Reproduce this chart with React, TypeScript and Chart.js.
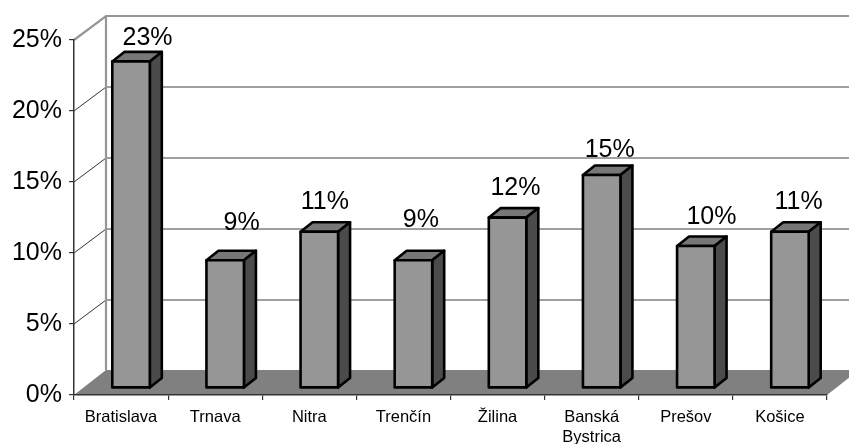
import React, { useEffect, useRef } from "react";
import { Chart, registerables } from "chart.js";

Chart.register(...registerables);

const categories: (string | string[])[] = ["Bratislava", "Trnava", "Nitra", "Trenčín", "Žilina", ["Banská", "Bystrica"], "Prešov", "Košice"];
const shares = [23, 9, 11, 9, 12, 15, 10, 11];
const yTicks = [0, 5, 10, 15, 20, 25];

// nudges of the value labels away from the top of their bar
const labelNudgeX = [16.5, 16.5, 5.6, 7.4, 7.9, 8, 15.6, 8.7];
const labelLift = [16.4, 30, 22.8, 33, 22.6, 18.3, 22, 22.8];

const WALL_DX = 32;
const WALL_DY = 24;
const BAR_DX = 10;
const BAR_DY = 7;
const SIDE_DX = 12;
const SIDE_DY = 9.5;
const EDGE = 2.6;

const solid3d = {
  id: "solid3d",
  beforeDraw(chart: any) {
    const { ctx, chartArea: a, scales } = chart;
    const y = scales.y;
    ctx.save();
    ctx.fillStyle = "#ffffff";
    ctx.fillRect(0, 0, chart.width, chart.height);
    // floor
    ctx.fillStyle = "#808080";
    ctx.beginPath();
    ctx.moveTo(a.left, a.bottom);
    ctx.lineTo(a.left + WALL_DX, a.bottom - WALL_DY - 1);
    ctx.lineTo(a.right + WALL_DX, a.bottom - WALL_DY - 1);
    ctx.lineTo(a.right, a.bottom);
    ctx.closePath();
    ctx.fill();
    // gridlines on the walls
    for (const t of yTicks) {
      const py = y.getPixelForValue(t);
      if (t > 0 && t < 25) {
        ctx.strokeStyle = "#333333";
        ctx.lineWidth = 1;
        ctx.beginPath();
        ctx.moveTo(a.left, py);
        ctx.lineTo(a.left + WALL_DX, py - WALL_DY);
        ctx.stroke();
        ctx.strokeStyle = "#808080";
        ctx.lineWidth = 1.3;
        ctx.beginPath();
        ctx.moveTo(a.left + WALL_DX, py - WALL_DY);
        ctx.lineTo(chart.width, py - WALL_DY);
        ctx.stroke();
      }
    }
    // wall frame
    ctx.strokeStyle = "#969696";
    ctx.lineWidth = 2.2;
    ctx.beginPath();
    ctx.moveTo(a.left, a.top);
    ctx.lineTo(a.left + WALL_DX, a.top - WALL_DY);
    ctx.lineTo(chart.width, a.top - WALL_DY);
    ctx.moveTo(a.left + WALL_DX, a.top - WALL_DY);
    ctx.lineTo(a.left + WALL_DX, a.bottom - WALL_DY - 1);
    ctx.stroke();
    ctx.restore();
  },
  beforeDatasetsDraw(chart: any) {
    const { ctx } = chart;
    ctx.save();
    ctx.translate(BAR_DX, -BAR_DY);
    const bars = chart.getDatasetMeta(0).data;
    ctx.lineWidth = EDGE;
    ctx.strokeStyle = "#000000";
    ctx.lineJoin = "round";
    for (const b of bars) {
      const p = b.getProps(["x", "y", "base", "width"], true);
      const l = p.x - p.width / 2;
      const r = p.x + p.width / 2;
      ctx.fillStyle = "#777777";
      ctx.beginPath();
      ctx.moveTo(l, p.y);
      ctx.lineTo(l + SIDE_DX, p.y - SIDE_DY);
      ctx.lineTo(r + SIDE_DX, p.y - SIDE_DY);
      ctx.lineTo(r, p.y);
      ctx.closePath();
      ctx.fill();
      ctx.stroke();
      ctx.fillStyle = "#4b4b4b";
      ctx.beginPath();
      ctx.moveTo(r, p.y);
      ctx.lineTo(r + SIDE_DX, p.y - SIDE_DY);
      ctx.lineTo(r + SIDE_DX, p.base - SIDE_DY);
      ctx.lineTo(r, p.base);
      ctx.closePath();
      ctx.fill();
      ctx.stroke();
    }
  },
  afterDatasetsDraw(chart: any) {
    const { ctx } = chart;
    const bars = chart.getDatasetMeta(0).data;
    ctx.lineWidth = EDGE;
    ctx.strokeStyle = "#000000";
    for (const b of bars) {
      const p = b.getProps(["x", "y", "base", "width"], true);
      ctx.strokeRect(p.x - p.width / 2, p.y, p.width, p.base - p.y);
    }
    ctx.restore();
    ctx.save();
    ctx.fillStyle = "#000000";
    ctx.font = '25px "Liberation Sans"';
    ctx.textAlign = "center";
    ctx.textBaseline = "alphabetic";
    bars.forEach((b: any, i: number) => {
      const p = b.getProps(["x", "y"], true);
      ctx.fillText(shares[i] + "%", p.x + BAR_DX + labelNudgeX[i], p.y - BAR_DY - labelLift[i]);
    });
    ctx.restore();
  },
};

export default function App() {
  const ref = useRef<HTMLCanvasElement>(null);
  useEffect(() => {
    document.body.style.margin = "0";
    const chart = new Chart(ref.current!, {
      type: "bar",
      data: {
        labels: categories,
        datasets: [{
          data: shares,
          backgroundColor: "#969696",
          borderWidth: 0,
          barThickness: 37.5,
        }],
      },
      options: {
        responsive: false,
        animation: false,
        devicePixelRatio: 1,
        layout: { padding: { top: 40, right: 22, left: 0, bottom: 0 } },
        plugins: { legend: { display: false }, title: { display: false }, tooltip: { enabled: false } },
        scales: {
          x: {
            afterFit: (s: any) => { s.height = 49; },
            grid: { drawOnChartArea: false, drawTicks: true, tickLength: 5, color: "#333333", lineWidth: 1.2 },
            border: { color: "#333333", width: 1.5 },
            ticks: { color: "#000000", font: { family: '"Liberation Sans"', size: 16.5 }, padding: 8, maxRotation: 0, autoSkip: false },
          },
          y: {
            min: 0,
            max: 25,
            afterFit: (s: any) => { s.width = 74; },
            grid: { drawOnChartArea: false, drawTicks: true, tickLength: 5, color: "#333333", lineWidth: 1.2 },
            border: { color: "#333333", width: 1.5 },
            afterBuildTicks: (s: any) => { s.ticks = yTicks.map((v) => ({ value: v })); },
            ticks: { color: "#000000", font: { family: '"Liberation Sans"', size: 25 }, padding: 7, callback: (v: any) => v + "%" },
          },
        },
      },
      plugins: [solid3d],
    } as any);
    return () => chart.destroy();
  }, []);
  return <canvas ref={ref} width={849} height={444} style={{ display: "block" }} />;
}
